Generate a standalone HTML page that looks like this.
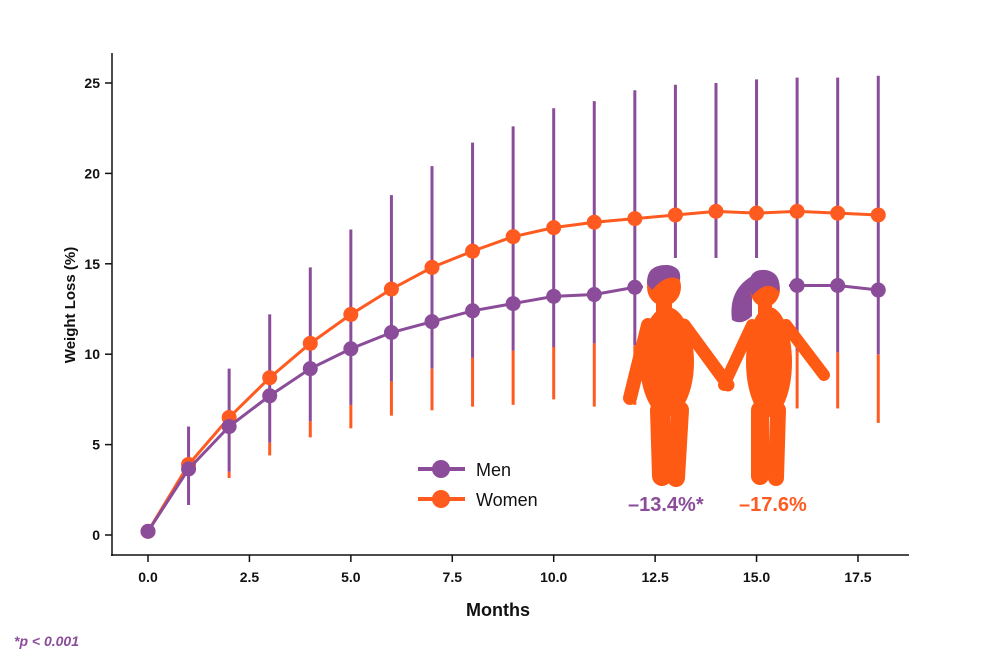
<!DOCTYPE html>
<html><head><meta charset="utf-8"><style>
body{margin:0;background:#fff;width:1000px;height:664px;overflow:hidden}
svg{display:block;font-family:"Liberation Sans",sans-serif}
</style></head><body>
<svg id="c" width="1000" height="664" viewBox="0 0 1000 664">
<g id="axes"></g>
<g id="marks"></g>
<g id="figs">
  <rect x="643" y="258" width="146" height="232" fill="#fff"/>
  <!-- man -->
  <g stroke="#ff5a14" stroke-linecap="round" fill="none">
    <line x1="648" y1="325" x2="630" y2="398" stroke-width="14"/>
    <line x1="684" y1="325" x2="728" y2="385" stroke-width="13"/>
    <line x1="660" y1="410" x2="662" y2="476" stroke-width="20"/>
    <line x1="680" y1="410" x2="676" y2="478" stroke-width="18"/>
  </g>
  <g fill="#ff5a14">
    <ellipse cx="664" cy="287" rx="17" ry="19"/>
    <rect x="656" y="300" width="16" height="20"/>
    <ellipse cx="667" cy="362" rx="27" ry="55"/>
  </g>
  <path d="M647 284 Q646 264 668 265 Q682 267 680 280 Q668 272 652 290 Z" fill="#8b4c9a"/>
  <!-- woman -->
  <path d="M752 276 Q728 290 732 320 Q742 326 752 316 Z" fill="#8b4c9a"/>
  <g stroke="#ff5a14" stroke-linecap="round" fill="none">
    <line x1="752" y1="325" x2="724" y2="385" stroke-width="12"/>
    <line x1="786" y1="325" x2="824" y2="375" stroke-width="12"/>
    <line x1="760" y1="410" x2="760" y2="476" stroke-width="18"/>
    <line x1="778" y1="410" x2="776" y2="478" stroke-width="16"/>
  </g>
  <g fill="#ff5a14">
    <ellipse cx="765" cy="289" rx="15" ry="18"/>
    <rect x="758" y="302" width="14" height="18"/>
    <ellipse cx="769" cy="362" rx="23" ry="55"/>
  </g>
  <path d="M749 288 Q748 268 766 270 Q782 273 779 292 Q768 278 752 296 Z" fill="#8b4c9a"/>
</g>
<g>
  <g>
    <line x1="418" y1="469" x2="465" y2="469" stroke="#8b4c9a" stroke-width="4"/>
    <circle cx="441" cy="469" r="9" fill="#8b4c9a"/>
    <text x="476" y="476" font-size="18" fill="#111">Men</text>
  </g>
  <g>
    <line x1="418" y1="499" x2="465" y2="499" stroke="#ff5a1f" stroke-width="4"/>
    <circle cx="441" cy="499" r="9" fill="#ff5a1f"/>
    <text x="476" y="506" font-size="18" fill="#111">Women</text>
  </g>
</g>
<text x="628" y="511" font-size="20" font-weight="bold" fill="#8b4c9a">–13.4%*</text>
<text x="739" y="511" font-size="20" font-weight="bold" fill="#ff5a1f">–17.6%</text>
<text x="498" y="616" font-size="18" font-weight="bold" text-anchor="middle" fill="#111">Months</text>
<text transform="translate(75,305) rotate(-90)" font-size="15" font-weight="bold" text-anchor="middle" fill="#111">Weight Loss (%)</text>
<text x="14" y="646" font-size="14" font-style="italic" font-weight="bold" fill="#8b4c9a">*p &lt; 0.001</text>
</svg>
<script>
const months=[0,1,2,3,4,5,6,7,8,9,10,11,12,13,14,15,16,17,18];
const menMean=[0.2,3.65,6.0,7.7,9.2,10.3,11.2,11.8,12.4,12.8,13.2,13.3,13.7,13.8,13.8,13.8,13.8,13.8,13.55];
const menUpper=[0.2,6.0,9.2,12.2,14.8,16.9,18.8,20.4,21.7,22.6,23.6,24.0,24.6,24.9,25.0,25.2,25.3,25.3,25.4];
const menLower=[0.2,1.66,3.5,5.1,6.3,7.2,8.5,9.2,9.8,10.2,10.4,10.6,10.5,10.4,10.3,10.2,10.2,10.1,10.0];
const womenMean=[0.2,3.9,6.5,8.7,10.6,12.2,13.6,14.8,15.7,16.5,17.0,17.3,17.5,17.7,17.9,17.8,17.9,17.8,17.7];
const womenLower=[0.2,1.66,3.15,4.4,5.4,5.9,6.6,6.9,7.1,7.2,7.5,7.1,7.2,7.2,7.1,7.1,7.0,7.0,6.2];
const xTicks=[0,2.5,5,7.5,10,12.5,15,17.5];
const yTicks=[0,5,10,15,20,25];
const P="#8b4c9a",O="#ff5a1f",NS="http://www.w3.org/2000/svg";
const xs=v=>148+v*40.57, ys=v=>535-v*18.08;
function mk(p,t,a){const e=document.createElementNS(NS,t);for(const k in a)e.setAttribute(k,a[k]);p.appendChild(e);return e;}
const ax=document.getElementById('axes'),m=document.getElementById('marks');
let e=mk(ax,'line',{x1:112,y1:53,x2:112,y2:556,stroke:'#111','stroke-width':1.5});


e=mk(ax,'line',{x1:111,y1:555,x2:909,y2:555,stroke:'#111','stroke-width':1.5});


xTicks.forEach(t=>{mk(ax,'line',{x1:xs(t),y1:555,x2:xs(t),y2:562,stroke:'#111','stroke-width':1.5});
 const tx=mk(ax,'text',{x:xs(t),y:582,'font-size':14,'font-weight':'bold','text-anchor':'middle',fill:'#111'});tx.textContent=t.toFixed(1);
 
 });
yTicks.forEach(t=>{mk(ax,'line',{x1:105,y1:ys(t),x2:112,y2:ys(t),stroke:'#111','stroke-width':1.5});
 const tx=mk(ax,'text',{x:100,y:ys(t)+5,'font-size':14,'font-weight':'bold','text-anchor':'end',fill:'#111'});tx.textContent=t;
 
 });
months.forEach((mo,i)=>{if(i===0)return;
 const w=mk(m,'line',{x1:xs(mo),y1:ys(womenLower[i]),x2:xs(mo),y2:ys(menLower[i]),stroke:O,'stroke-width':3});
 
 
 const b=mk(m,'line',{x1:xs(mo),y1:ys(menLower[i]),x2:xs(mo),y2:ys(menUpper[i]),stroke:P,'stroke-width':3});
 
 });
function series(vals,col,name){
 const l=mk(m,'polyline',{points:months.map((mo,i)=>xs(mo)+','+ys(vals[i])).join(' '),fill:'none',stroke:col,'stroke-width':3});
 
 
 months.forEach((mo,i)=>{const c=mk(m,'circle',{cx:xs(mo),cy:ys(vals[i]),r:7.5,fill:col});
  
  });}
series(womenMean,O,'women');
series(menMean,P,'men');
</script>
</body></html>
